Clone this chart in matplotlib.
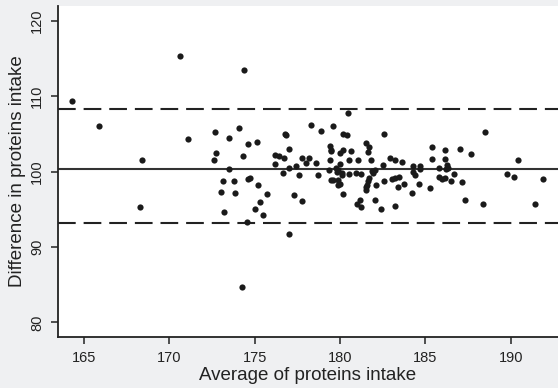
import matplotlib
matplotlib.use("Agg")
import matplotlib.pyplot as plt
import numpy as np

# Bland-Altman style data: average vs difference of proteins intake
avg_intake = [
    164.3, 165.9, 168.4, 168.3, 170.65, 171.1, 172.7, 172.75, 172.6, 173.5,
    174.1, 174.35, 174.6, 175.15, 174.3, 173.5, 173.15, 173.8, 174.6, 174.75,
    175.2, 173.0, 173.85, 175.7, 173.2, 175.0, 175.3, 175.5, 174.55, 174.25,
    176.2, 176.45, 176.7, 176.2, 177.3, 177.8, 177.0, 176.8, 176.85, 177.0,
    177.8, 178.2, 178.0, 178.6, 177.4, 177.0, 176.65, 177.6, 178.7, 178.3,
    178.9, 179.6, 180.45, 180.2, 180.4, 182.6, 188.5, 179.4, 179.45, 179.5,
    180.2, 180.0, 180.65, 181.5, 181.7, 181.65, 185.4, 186.15, 187.05, 187.7,
    179.4, 179.35, 179.75, 179.8, 179.9, 180.0, 180.1, 180.1, 180.5, 180.55,
    181.05, 180.95, 181.2, 181.8, 181.85, 181.95, 182.05, 179.5, 179.6, 179.9,
    180.0, 179.9, 181.7, 181.65, 181.6, 181.55, 181.5, 182.1, 180.2, 181.15,
    181.0, 181.25, 182.05, 182.4, 183.2, 184.2, 185.3, 187.3, 188.35, 191.4,
    182.5, 182.9, 183.25, 183.65, 182.55, 183.05, 183.2, 183.45, 183.4, 183.75,
    184.25, 184.3, 184.4, 184.7, 184.7, 184.6, 185.4, 186.15, 185.8, 186.25,
    186.3, 186.2, 185.8, 186.0, 186.15, 186.7, 186.5, 187.15, 189.8, 190.2,
    190.4, 191.9,
]
diff_intake = [
    109.4, 106.1, 101.5, 95.3, 115.4, 104.3, 105.2, 102.5, 101.6, 104.5,
    105.8, 113.5, 103.7, 104.0, 102.1, 100.4, 98.8, 98.8, 99.0, 99.1,
    98.2, 97.3, 97.2, 97.0, 94.7, 95.1, 96.0, 94.2, 93.3, 84.7,
    102.2, 102.05, 101.8, 101.0, 96.9, 96.1, 91.7, 105.0, 104.8, 103.05,
    101.8, 101.8, 101.15, 101.15, 100.7, 100.45, 99.8, 99.6, 99.55, 106.2,
    105.4, 106.1, 107.8, 105.0, 104.8, 105.0, 105.2, 103.4, 102.9, 102.7,
    102.9, 102.5, 102.8, 103.8, 103.3, 102.65, 103.3, 102.9, 103.05, 102.3,
    101.55, 100.2, 100.45, 100.0, 100.2, 101.0, 99.8, 99.55, 99.7, 101.6,
    101.6, 99.8, 99.7, 101.6, 100.1, 99.8, 100.2, 98.85, 98.85, 98.85,
    98.4, 98.2, 99.1, 98.7, 98.2, 98.0, 97.6, 98.2, 97.1, 96.3,
    95.7, 95.35, 96.3, 95.0, 95.5, 97.2, 97.8, 96.3, 95.7, 95.7,
    100.9, 101.85, 101.55, 101.3, 98.8, 99.0, 99.1, 99.25, 98.0, 98.3,
    100.75, 99.95, 99.5, 100.8, 100.4, 98.4, 101.7, 101.7, 100.5, 100.9,
    100.5, 100.3, 99.25, 99.0, 99.1, 99.65, 98.8, 98.6, 99.7, 99.25,
    101.6, 99.0,
]

mean_diff = 100.3
upper_limit = 108.35
lower_limit = 93.25

x_ticks = [165, 170, 175, 180, 185, 190]
y_ticks = [80, 90, 100, 110, 120]

plt.rcParams["font.family"] = ["Liberation Sans", "DejaVu Sans"]

fig = plt.figure(figsize=(5.58, 3.88), dpi=100, facecolor="#eff0f2")
ax = fig.add_axes([0.104, 0.132, 0.896, 0.853])
ax.set_facecolor("white")

ax.scatter(avg_intake, diff_intake, s=20, color="#1a1a1a", linewidths=0, zorder=3)

ax.axhline(mean_diff, color="#333333", lw=1.5, zorder=2)
for lim in (upper_limit, lower_limit):
    ax.axhline(lim, color="#222222", lw=1.5, dashes=(8.5, 3.8), zorder=2)

ax.set_xlim(163.48, 192.77)
ax.set_ylim(78.1, 122.0)
ax.set_xticks(x_ticks)
ax.set_yticks(y_ticks)

for side in ("top", "right"):
    ax.spines[side].set_visible(False)
for side in ("left", "bottom"):
    ax.spines[side].set_linewidth(1.3)
    ax.spines[side].set_color("#222222")

ax.tick_params(direction="out", length=5, width=1.1, color="#222222",
               labelsize=10.5, labelcolor="#222222", pad=5)
for lbl in ax.get_yticklabels():
    lbl.set_rotation(90)
    lbl.set_va("center")

ax.set_xlabel("Average of proteins intake", fontsize=13.5, color="#222222", labelpad=2)
ax.set_ylabel("Difference in proteins intake", fontsize=13.5, color="#222222", labelpad=3)

fig.savefig("out.png", dpi=100, facecolor=fig.get_facecolor())
